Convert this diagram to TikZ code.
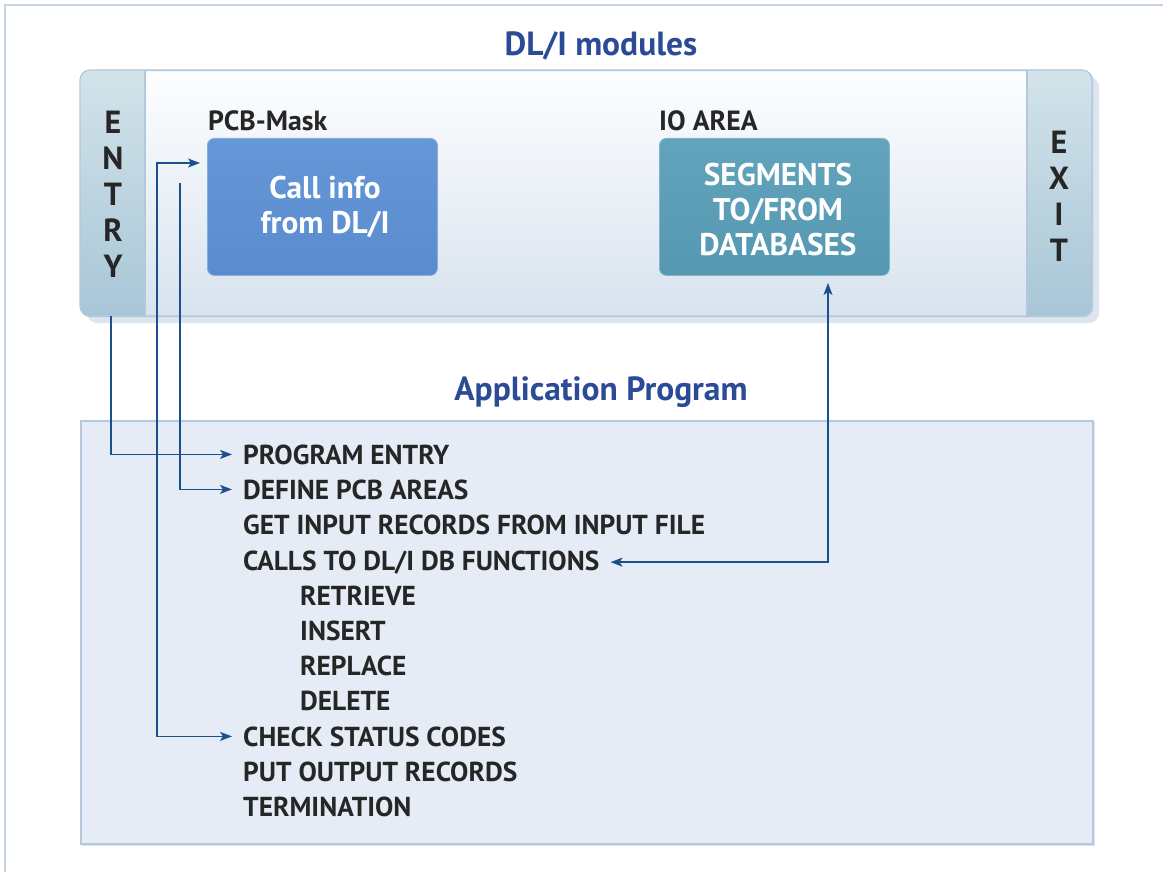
\documentclass[tikz,border=0pt]{standalone}
\usepackage{fontspec}
\setmainfont{PT Sans}
\usetikzlibrary{arrows.meta,calc}
\definecolor{framec}{HTML}{C5D5E8}
\definecolor{titlec}{HTML}{2C4B96}
\definecolor{dlitop}{HTML}{FDFEFF}
\definecolor{dlibot}{HTML}{D8E3EE}
\definecolor{bartop}{HTML}{D3E3EA}
\definecolor{barbot}{HTML}{A8C6D7}
\definecolor{borderc}{HTML}{B3C8DC}
\definecolor{shadowc}{HTML}{DCE5EE}
\definecolor{pcbtop}{HTML}{6598D8}
\definecolor{pcbbot}{HTML}{5A8BCE}
\definecolor{iotop}{HTML}{62A4BC}
\definecolor{iobot}{HTML}{5698B1}
\definecolor{appfill}{HTML}{E5ECF5}
\definecolor{appborder}{HTML}{B5C8DD}
\definecolor{arrowc}{HTML}{1B4F8E}
\definecolor{textc}{HTML}{262626}
\tikzset{
  titletext/.style={font=\bfseries\fontsize{33.5}{38}\selectfont, text=titlec, inner sep=0},
  labeltext/.style={font=\bfseries\fontsize{27.8}{32}\selectfont, text=textc, inner sep=0, anchor=base west},
  boxtext/.style={font=\bfseries\fontsize{31.3}{35}\selectfont, text=white, align=center, inner sep=0},
  bartext/.style={font=\bfseries\fontsize{32}{36}\selectfont, text=textc, align=center, inner sep=0},
  item/.style={font=\bfseries\fontsize{27.4}{30}\selectfont, text=textc, inner ysep=0, inner xsep=11pt, anchor=base west},
  tip/.style={Stealth[length=12pt,width=9pt,inset=3pt]},
  conn/.style={draw=arrowc, line width=1.5pt, -{Stealth[length=12pt,width=9pt,inset=3pt]}},
  conn2/.style={draw=arrowc, line width=1.5pt, {Stealth[length=12pt,width=9pt,inset=3pt]}-{Stealth[length=12pt,width=9pt,inset=3pt]}},
}
\begin{document}
\begin{tikzpicture}[x=1pt,y=-1pt]
\useasboundingbox (0,0) rectangle (1163,872);
\fill[white] (0,0) rectangle (1163,872);
% outer frame
\draw[framec, line width=1.5pt] (5,900) -- (5,5) -- (1200,5);

% titles
\node[titletext] (t1) at (601,46) {DL/I modules};
\node[titletext] (t2) at (601,392) {Application Program};

% DL/I box
\fill[shadowc, rounded corners=10pt] (87,77) rectangle (1099,323);
\node[draw=borderc, line width=1.2pt, rounded corners=10pt, top color=dlitop, bottom color=dlibot,
      anchor=north west, minimum width=1012pt, minimum height=246pt, inner sep=0] (dli) at (80,70) {};
\begin{scope}
  \clip[rounded corners=10pt] (80,70) rectangle (1092,316);
  \fill[top color=bartop, bottom color=barbot] (80,70) rectangle (145,316);
  \fill[top color=bartop, bottom color=barbot] (1027,70) rectangle (1092,316);
\end{scope}
\draw[borderc, line width=1.2pt] (145,70) -- (145,316);
\draw[borderc, line width=1.2pt] (1027,70) -- (1027,316);
\draw[borderc, line width=1.2pt, rounded corners=10pt] (80,70) rectangle (1092,316);

\node[bartext] (entry) at (113,194) {E\\N\\T\\R\\Y};
\node[bartext] (exit) at (1059,196) {E\\X\\I\\T};

% PCB box
\node[labeltext] (pcblabel) at (208,131) {PCB-Mask};
\node[draw=pcbtop!80!white, line width=0.8pt, rounded corners=7pt, top color=pcbtop, bottom color=pcbbot,
      anchor=north west, minimum width=230pt, minimum height=137pt, inner sep=0] (pcb) at (207,138) {};
\node[boxtext] (pcbtext) at (325,207.5) {Call info\\from DL/I};

% IO box
\node[labeltext] (iolabel) at (659,131) {IO AREA};
\node[draw=iotop!80!white, line width=0.8pt, rounded corners=7pt, top color=iotop, bottom color=iobot,
      anchor=north west, minimum width=230pt, minimum height=137pt, inner sep=0] (io) at (659,138) {};
\node[boxtext] (iotext) at (778,210) {SEGMENTS\\TO/FROM\\DATABASES};

% Application box
\fill[appborder!50!white] (82,422) rectangle (1095,846);
\node[draw=appborder, line width=1.5pt, fill=appfill, anchor=north west,
      minimum width=1012pt, minimum height=423pt, inner sep=0] (app) at (80,420) {};

% list
\node[item] (l1) at (232,464) {PROGRAM ENTRY};
\node[item] (l2) at (232,499) {DEFINE PCB AREAS};
\node[item] (l3) at (232,534) {GET INPUT RECORDS FROM INPUT FILE};
\node[item] (l4) at (232,570) {CALLS TO DL/I DB FUNCTIONS};
\node[item] (l5) at (289,605) {RETRIEVE};
\node[item] (l6) at (289,640) {INSERT};
\node[item] (l7) at (289,675) {REPLACE};
\node[item] (l8) at (289,710) {DELETE};
\node[item] (l9) at (232,746) {CHECK STATUS CODES};
\node[item] (l10) at (232,781) {PUT OUTPUT RECORDS};
\node[item] (l11) at (232,816) {TERMINATION};

% connectors
\coordinate (entryout) at (111,316);
\draw[conn] (entryout) |- (l1.west);

\coordinate (pcbin) at (200,163);
\coordinate (pcbcorner) at (157,163);
\draw[conn2] (pcbin) -- (pcbcorner) |- (l9.west);

\coordinate (pcbstart) at (180,183);
\draw[conn] (pcbstart) |- (l2.west);

\coordinate (ioin) at (828,283);
\draw[conn2] (ioin) |- (l4.east);
\end{tikzpicture}
\end{document}
